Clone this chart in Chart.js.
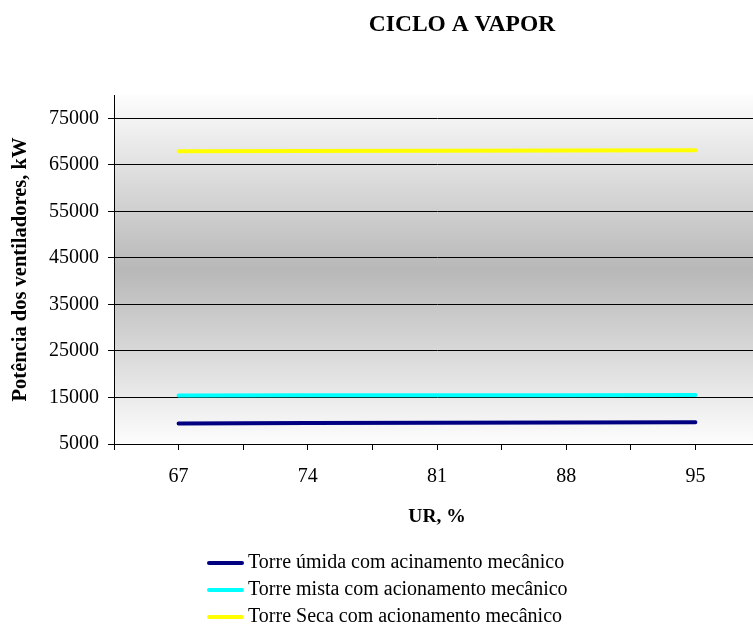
<!DOCTYPE html>
<html>
<head>
<meta charset="utf-8">
<script src="https://cdn.jsdelivr.net/npm/chart.js@4.4.0/dist/chart.umd.min.js"></script>
<style>
  html, body { margin: 0; padding: 0; background: #fff; overflow: hidden; }
  #wrap { width: 775px; height: 628px; }
</style>
</head>
<body>
<div id="wrap"><canvas id="chart" width="775" height="628"></canvas></div>
<script>
// dados
const chartTitle = 'CICLO A VAPOR';
const categories = [67, 74, 81, 88, 95];
const umida = [9400, 9500, 9550, 9600, 9650];
const mista = [15400, 15450, 15500, 15500, 15550];
const seca = [67900, 67950, 68000, 68050, 68100];
const yTicks = [5000, 15000, 25000, 35000, 45000, 55000, 65000, 75000];
const seriesNames = [
    'Torre úmida com acinamento mecânico',
    'Torre mista com acionamento mecânico',
    'Torre Seca com acionamento mecânico'
];
const seriesColors = ['#000080', '#00ffff', '#ffff00'];

const serif = "'Times New Roman', 'Liberation Serif', serif";
const step = categories[1] - categories[0];

function toPoints(values) {
    return categories.map((c, i) => ({ x: c, y: values[i] }));
}

// fundo em degradê (branco - cinza - branco)
const plotBackground = {
    id: 'plotBackground',
    beforeDraw(chart) {
        const { ctx, chartArea: a } = chart;
        const g = ctx.createLinearGradient(0, a.top, 0, a.bottom);
        g.addColorStop(0, '#fdfdfd');
        g.addColorStop(0.5, '#b8b8b8');
        g.addColorStop(1, '#fdfdfd');
        ctx.save();
        ctx.fillStyle = g;
        ctx.fillRect(a.left, a.top, a.right - a.left, a.bottom - a.top);
        ctx.restore();
    }
};

// título e legenda vertical
const titleAndLegend = {
    id: 'titleAndLegend',
    afterDraw(chart) {
        const ctx = chart.ctx;
        ctx.save();
        ctx.fillStyle = '#000';
        ctx.textAlign = 'center';
        ctx.textBaseline = 'middle';
        ctx.font = 'bold 23.5px ' + serif;
        ctx.fillText(chartTitle, 462, 25);

        ctx.font = '20px ' + serif;
        ctx.textAlign = 'left';
        chart.data.datasets.forEach((ds, i) => {
            const y = 563 + i * 27;
            ctx.strokeStyle = ds.borderColor;
            ctx.lineWidth = 4;
            ctx.lineCap = 'round';
            ctx.beginPath();
            ctx.moveTo(209, y);
            ctx.lineTo(242, y);
            ctx.stroke();
            ctx.fillText(ds.label, 248, y);
        });
        ctx.restore();
    }
};

const datasets = [umida, mista, seca].map((vals, i) => ({
    label: seriesNames[i],
    data: toPoints(vals),
    borderColor: seriesColors[i],
    backgroundColor: seriesColors[i],
    borderWidth: 4,
    borderCapStyle: 'round',
    pointRadius: 0,
    tension: 0
}));

new Chart(document.getElementById('chart').getContext('2d'), {
    type: 'line',
    data: { datasets: datasets },
    options: {
        responsive: false,
        animation: false,
        layout: { padding: { top: 95, right: 1, bottom: 98, left: 0 } },
        plugins: {
            legend: { display: false },
            title: { display: false },
            tooltip: { enabled: false }
        },
        scales: {
            x: {
                type: 'linear',
                min: categories[0] - step / 2,
                max: categories[categories.length - 1] + step / 2,
                afterBuildTicks(scale) {
                    const t = [];
                    categories.forEach(c => { t.push({ value: c - step / 2 }); t.push({ value: c }); });
                    t.push({ value: categories[categories.length - 1] + step / 2 });
                    scale.ticks = t;
                },
                afterFit(scale) { scale.height = 86; },
                ticks: {
                    autoSkip: false,
                    maxRotation: 0,
                    padding: 15,
                    color: '#000',
                    font: { family: serif, size: 20 },
                    callback: function(value) {
                        return categories.includes(value) ? String(value) : '';
                    }
                },
                grid: {
                    drawOnChartArea: false,
                    drawTicks: true,
                    tickLength: 6,
                    color: '#000'
                },
                border: { display: true, color: '#000', width: 1 },
                title: {
                    display: true,
                    text: 'UR, %',
                    color: '#000',
                    font: { family: serif, size: 19.5, weight: 'bold' },
                    padding: { top: 0, bottom: 1 }
                }
            },
            y: {
                min: 5000,
                max: 80000,
                afterBuildTicks(scale) {
                    scale.ticks = yTicks.map(v => ({ value: v }));
                },
                afterFit(scale) { scale.width = 114; },
                ticks: {
                    padding: 9,
                    color: '#000',
                    font: { family: serif, size: 20 },
                    callback: function(value) { return String(value); }
                },
                grid: {
                    color: '#000',
                    lineWidth: 1,
                    tickLength: 6
                },
                border: { display: true, color: '#000', width: 1 },
                title: {
                    display: true,
                    text: 'Potência dos ventiladores, kW',
                    color: '#000',
                    font: { family: serif, size: 20.5, weight: 'bold' },
                    padding: { top: 8, bottom: 0 }
                }
            }
        }
    },
    plugins: [plotBackground, titleAndLegend]
});
</script>
</body>
</html>
